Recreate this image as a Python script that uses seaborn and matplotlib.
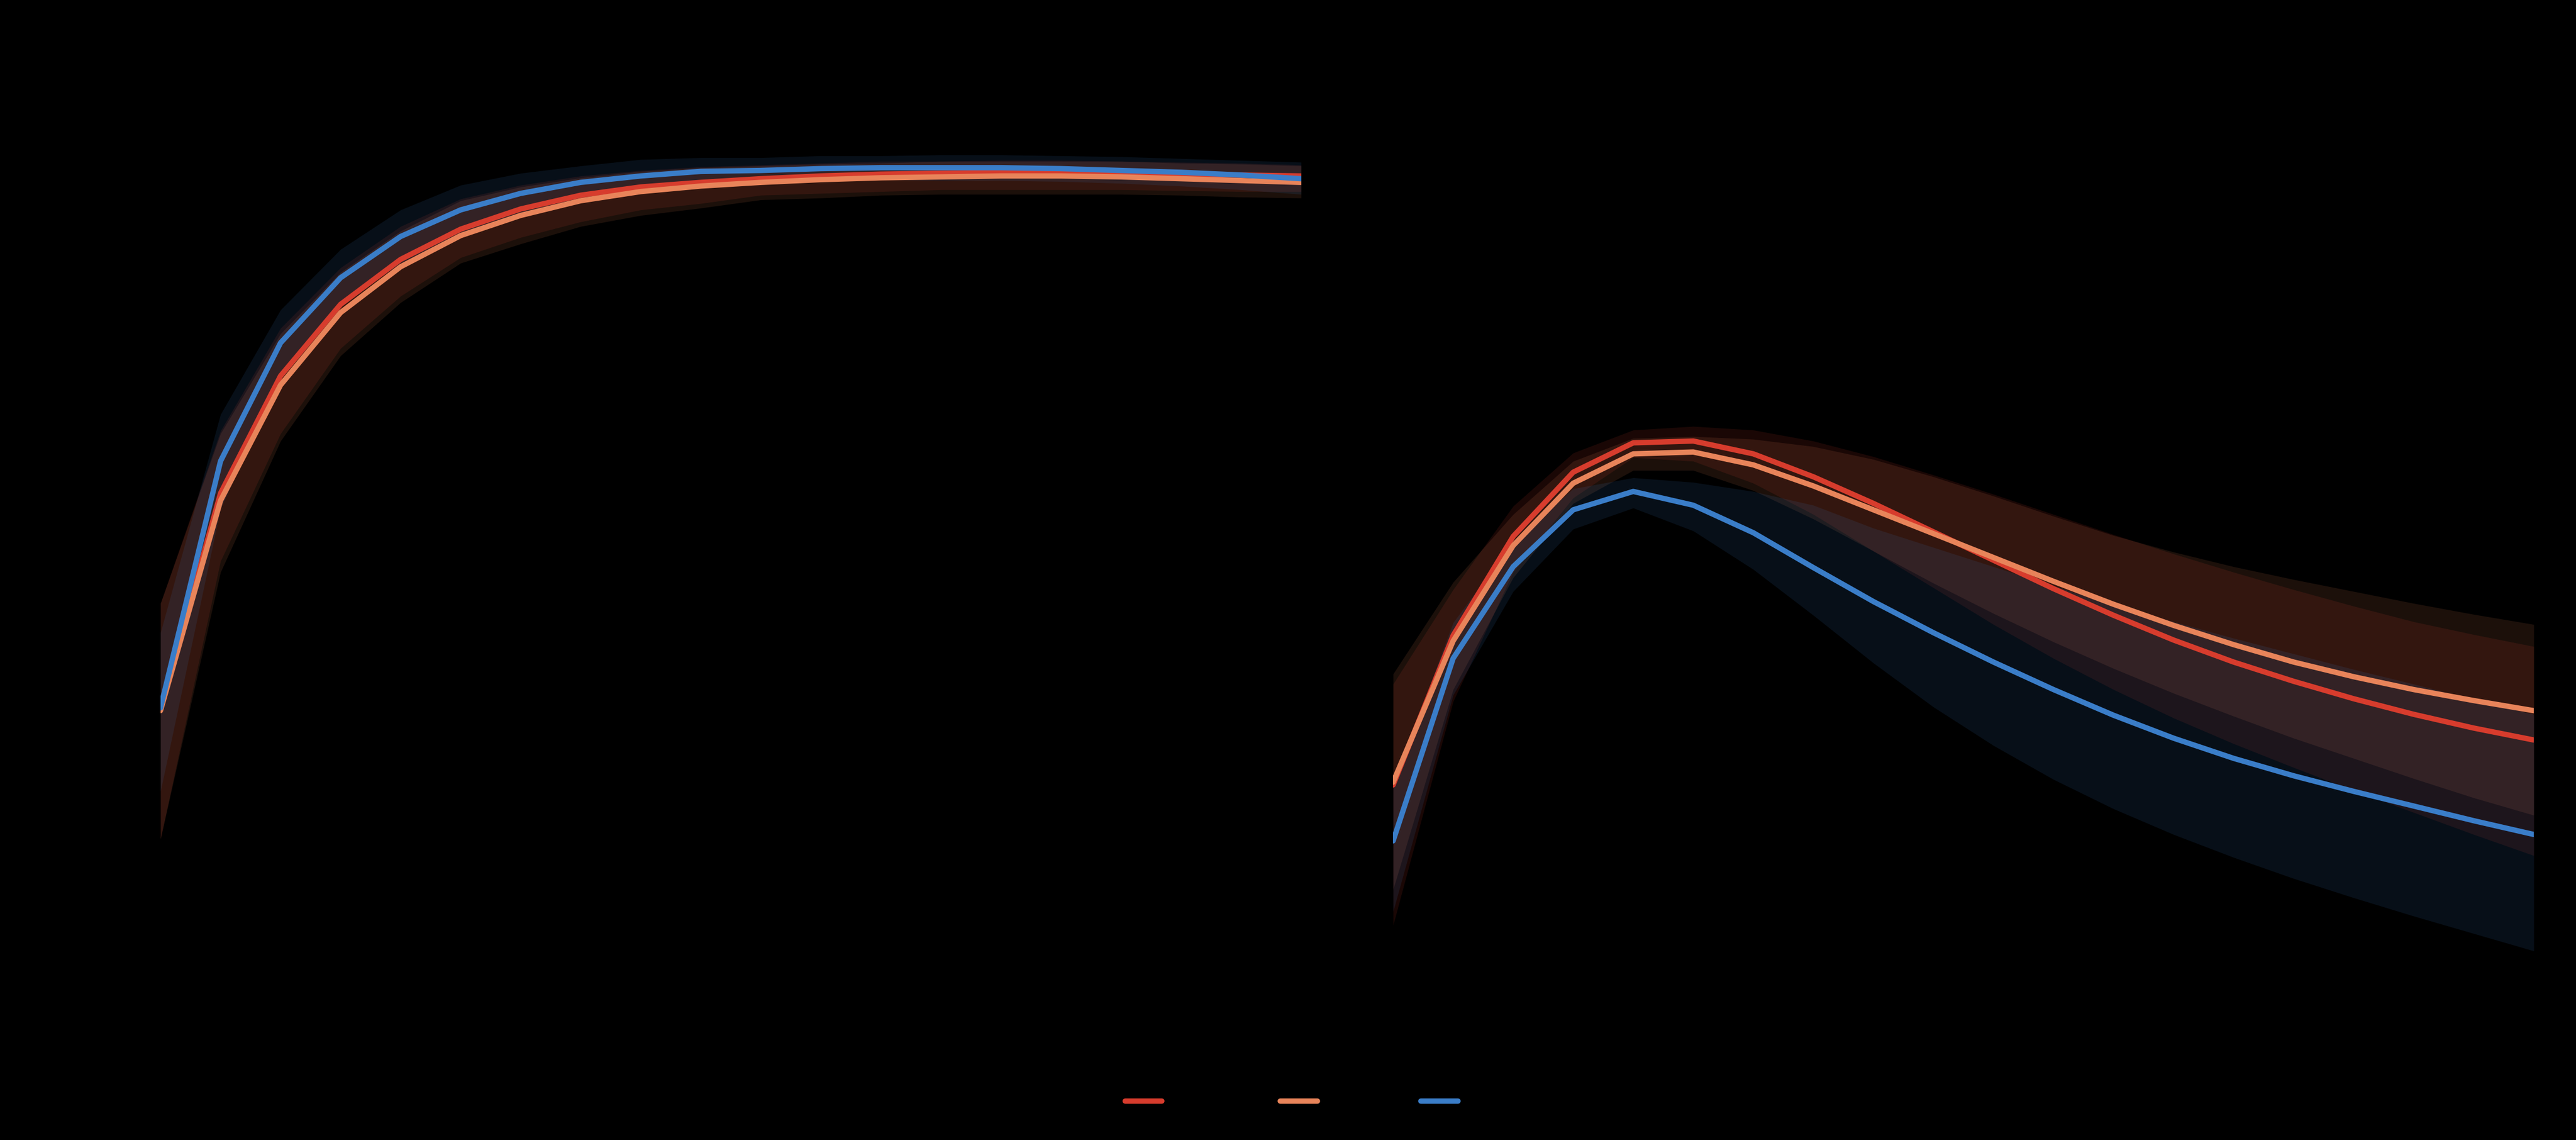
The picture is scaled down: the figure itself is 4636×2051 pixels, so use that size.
import matplotlib
matplotlib.use("Agg")
import matplotlib.pyplot as plt
import numpy as np
import pandas as pd
import seaborn as sns

# ---------------- data ----------------
steps = [1, 2, 3, 4, 5, 6, 7, 8, 9, 10, 11, 12, 13, 14, 15, 16, 17, 18, 19, 20]
series = ["Adam", "SGD", "RMSprop"]
colors = ["#d73c2d", "#e8845a", "#3a7dc8"]

# panel A (saturating curve)
a_red = [0.318, 0.553, 0.681, 0.759, 0.808, 0.841, 0.863, 0.878, 0.887, 0.892,
         0.896, 0.899, 0.901, 0.902, 0.903, 0.903, 0.902, 0.901, 0.900, 0.899]
a_red_lo = [0.176, 0.479, 0.618, 0.711, 0.768, 0.810, 0.832, 0.849, 0.862, 0.869,
            0.878, 0.880, 0.882, 0.884, 0.884, 0.884, 0.884, 0.883, 0.882, 0.882]
a_red_hi = [0.433, 0.621, 0.733, 0.799, 0.844, 0.874, 0.889, 0.899, 0.905, 0.909,
            0.911, 0.913, 0.915, 0.915, 0.916, 0.916, 0.915, 0.914, 0.913, 0.911]

a_orange = [0.316, 0.545, 0.671, 0.750, 0.800, 0.834, 0.856, 0.872, 0.882, 0.888,
            0.892, 0.895, 0.897, 0.898, 0.899, 0.899, 0.898, 0.896, 0.894, 0.892]
a_orange_lo = [0.176, 0.467, 0.610, 0.703, 0.761, 0.804, 0.825, 0.844, 0.856, 0.864,
               0.873, 0.875, 0.878, 0.879, 0.879, 0.879, 0.879, 0.878, 0.876, 0.875]
a_orange_hi = [0.433, 0.618, 0.727, 0.794, 0.839, 0.872, 0.887, 0.897, 0.904, 0.908,
               0.910, 0.912, 0.913, 0.915, 0.915, 0.915, 0.915, 0.913, 0.912, 0.910]

a_blue = [0.319, 0.588, 0.717, 0.788, 0.833, 0.862, 0.880, 0.892, 0.899, 0.904,
          0.905, 0.907, 0.908, 0.908, 0.908, 0.907, 0.905, 0.903, 0.900, 0.896]
a_blue_lo = [0.228, 0.536, 0.681, 0.758, 0.804, 0.835, 0.858, 0.873, 0.882, 0.889,
             0.892, 0.893, 0.895, 0.894, 0.894, 0.893, 0.891, 0.888, 0.884, 0.879]
a_blue_hi = [0.401, 0.639, 0.753, 0.819, 0.862, 0.889, 0.902, 0.910, 0.917, 0.919,
             0.919, 0.921, 0.921, 0.922, 0.922, 0.921, 0.920, 0.918, 0.916, 0.914]

# panel B (rise and decay)
b_red = [0.235, 0.398, 0.506, 0.576, 0.608, 0.610, 0.596, 0.571, 0.542, 0.511,
         0.480, 0.449, 0.420, 0.393, 0.369, 0.348, 0.329, 0.312, 0.297, 0.284]
b_red_lo = [0.082, 0.326, 0.467, 0.548, 0.592, 0.588, 0.564, 0.530, 0.490, 0.450,
            0.410, 0.373, 0.339, 0.308, 0.280, 0.254, 0.229, 0.205, 0.181, 0.158]
b_red_hi = [0.345, 0.448, 0.539, 0.597, 0.622, 0.626, 0.622, 0.610, 0.593, 0.573,
            0.552, 0.530, 0.508, 0.487, 0.467, 0.448, 0.430, 0.413, 0.399, 0.386]

b_orange = [0.238, 0.392, 0.496, 0.564, 0.596, 0.598, 0.584, 0.561, 0.535, 0.509,
            0.483, 0.457, 0.432, 0.409, 0.388, 0.369, 0.353, 0.339, 0.327, 0.316]
b_orange_lo = [0.121, 0.339, 0.461, 0.542, 0.578, 0.578, 0.556, 0.525, 0.490, 0.455,
               0.422, 0.391, 0.362, 0.335, 0.310, 0.286, 0.264, 0.242, 0.221, 0.202]
b_orange_hi = [0.356, 0.456, 0.530, 0.588, 0.613, 0.615, 0.612, 0.604, 0.590, 0.571,
               0.550, 0.528, 0.507, 0.489, 0.473, 0.459, 0.446, 0.433, 0.421, 0.410]

b_blue = [0.174, 0.373, 0.473, 0.535, 0.555, 0.540, 0.510, 0.472, 0.435, 0.401,
          0.369, 0.339, 0.311, 0.286, 0.264, 0.245, 0.228, 0.212, 0.196, 0.181]
b_blue_lo = [0.097, 0.333, 0.446, 0.514, 0.537, 0.512, 0.470, 0.420, 0.368, 0.320,
             0.278, 0.241, 0.209, 0.181, 0.156, 0.133, 0.112, 0.092, 0.073, 0.054]
b_blue_hi = [0.236, 0.412, 0.500, 0.558, 0.570, 0.565, 0.555, 0.540, 0.515, 0.494,
             0.473, 0.452, 0.432, 0.413, 0.395, 0.378, 0.361, 0.345, 0.328, 0.312]

panel_titles = ["Accuracy", "Response"]
x_label = "Step"

# ---------------- style ----------------
sns.set_theme(style="dark")
plt.rcParams.update({
    "figure.facecolor": "black",
    "axes.facecolor": "black",
    "savefig.facecolor": "black",
    "axes.edgecolor": "black",
    "axes.labelcolor": "black",
    "text.color": "black",
    "xtick.color": "black",
    "ytick.color": "black",
    "axes.grid": False,
})
plt.rcParams["font.family"] = ["DejaVu Sans"]

fig = plt.figure(figsize=(4636 / 300, 2051 / 300), dpi=300)
ax_a = fig.add_axes([0.0623, 0.1224, 0.4428, 0.8045])
ax_b = fig.add_axes([0.5408, 0.1224, 0.4428, 0.8045])

panels = [
    (ax_a, [(a_red, a_red_lo, a_red_hi), (a_orange, a_orange_lo, a_orange_hi),
            (a_blue, a_blue_lo, a_blue_hi)]),
    (ax_b, [(b_red, b_red_lo, b_red_hi), (b_orange, b_orange_lo, b_orange_hi),
            (b_blue, b_blue_lo, b_blue_hi)]),
]

for (ax, data), title in zip(panels, panel_titles):
    rows = []
    for name, (mean, lo, hi) in zip(series, data):
        for s, m in zip(steps, mean):
            rows.append({"step": s, "value": m, "series": name})
    df = pd.DataFrame(rows)
    for name, col, (mean, lo, hi) in zip(series, colors, data):
        ax.fill_between(steps, lo, hi, color=col, alpha=0.12, linewidth=0)
    sns.lineplot(data=df, x="step", y="value", hue="series", hue_order=series,
                 palette=colors, linewidth=2.3, errorbar=None, ax=ax, legend=True)
    ax.get_legend().remove()
    ax.set_xlim(steps[0], steps[-1])
    ax.set_ylim(0, 1)
    ax.set_title(title, color="black")
    ax.set_xlabel(x_label)
    ax.set_ylabel("")
    for sp in ax.spines.values():
        sp.set_visible(False)

handles = ax_a.get_lines()[:3]
fig.legend(handles, series, loc="center", bbox_to_anchor=(0.5226, 0.0325), ncol=3,
           frameon=False, fontsize=9, handlelength=1.77, columnspacing=2.0,
           handletextpad=0.8, labelcolor="black")

fig.savefig("out.png", dpi=300, facecolor="black")
